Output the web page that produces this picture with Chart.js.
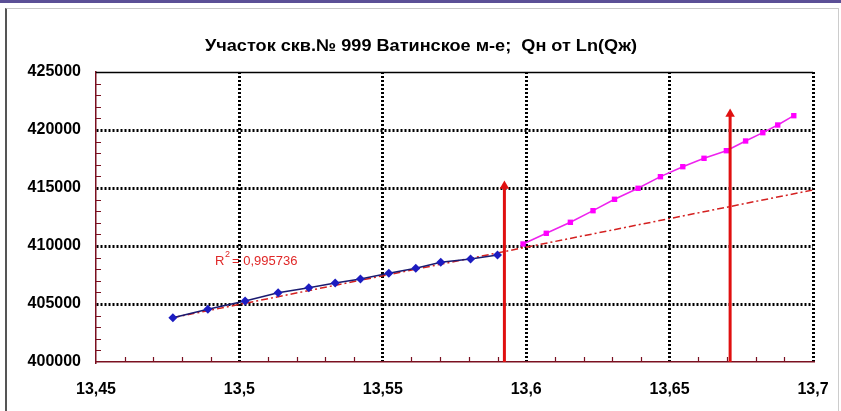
<!DOCTYPE html>
<html>
<head>
<meta charset="utf-8">
<script src="https://cdn.jsdelivr.net/npm/chart.js@4/dist/chart.umd.min.js"></script>
<style>
  html, body { margin: 0; padding: 0; background: #fff; }
  #wrap { position: relative; width: 841px; height: 411px; overflow: hidden; }
  #topbar { position: absolute; left: 0; top: 0; width: 841px; height: 3px; background: #5b4f96; }
  #frame { position: absolute; left: 5px; top: 8px; width: 831px; height: 420px;
           border-left: 2px solid #555; border-top: 1px solid #c8c8c8; border-right: 1px solid #ccc; }
  canvas { position: absolute; left: 0; top: 0; }
</style>
</head>
<body>
<div id="wrap">
  <div id="topbar"></div>
  <div id="frame"></div>
  <canvas id="c" width="841" height="411"></canvas>
</div>
<script>
/* ── data ── */
const TITLE = 'Участок скв.№ 999 Ватинское м-е;  Qн от Ln(Qж)';
const R2_TEXT = '= 0,995736';

const X_TICKS = [13.45, 13.5, 13.55, 13.6, 13.65, 13.7];
const Y_TICKS = [400000, 405000, 410000, 415000, 420000, 425000];

// history (blue diamonds)
const HIST_X = [13.4768, 13.4890, 13.5020, 13.5135, 13.5242, 13.5334, 13.5422, 13.5521, 13.5615, 13.5702, 13.5806, 13.5900];
const HIST_Y = [403820, 404545, 405250, 405975, 406406, 406812, 407157, 407648, 408079, 408596, 408881, 409225];

// forecast (magenta squares)
const FC_X = [13.5989, 13.6070, 13.6154, 13.6233, 13.6308, 13.6390, 13.6468, 13.6546, 13.6620, 13.6698, 13.6765, 13.6825, 13.6877, 13.6933];
const FC_Y = [410174, 411096, 412044, 413044, 414027, 414975, 415975, 416837, 417561, 418216, 419052, 419768, 420431, 421233];

// linear trend of the history, extended
const TREND_X = [13.4768, 13.7];
const TREND_Y = [403820, 414830];

// red arrows
const ARROW_X = [13.5924, 13.6711];
const ARROW_TOP = [415170, 421380];
const ARROW_BASE = 400000;

const pts = (xs, ys) => xs.map((x, i) => ({ x, y: ys[i] }));
const fmtX = v => String(Number(v.toFixed(2))).replace('.', ',');

const AXIS_RED = '#7a1020';
const FONT = '"Liberation Sans", Arial, sans-serif';

// draw text squeezed horizontally to a given width (the original uses a narrow bold face)
function narrowText(ctx, text, x, y, width) {
  const w = ctx.measureText(text).width;
  ctx.save();
  ctx.translate(x, y);
  ctx.scale(width / w, 1);
  ctx.fillText(text, 0, 0);
  ctx.restore();
}

/* ── extras: title, R², top border, minor ticks ── */
const extras = {
  id: 'extras',
  beforeDatasetsDraw(chart) {
    const { ctx, chartArea: a, scales: { x, y } } = chart;
    ctx.save();
    // top border
    ctx.strokeStyle = '#000';
    ctx.lineWidth = 1.5;
    ctx.beginPath();
    ctx.moveTo(a.left, a.top + 0.5);
    ctx.lineTo(a.right, a.top + 0.5);
    ctx.stroke();
    // minor ticks
    ctx.strokeStyle = AXIS_RED;
    ctx.lineWidth = 1.2;
    ctx.beginPath();
    for (let i = 1; i < 25; i++) {
      if (i % 5 === 0) continue;
      const px = Math.round(x.getPixelForValue(13.45 + i * 0.01)) + 0.5;
      ctx.moveTo(px, a.bottom);
      ctx.lineTo(px, a.bottom - 5);
      const py = Math.round(y.getPixelForValue(400000 + i * 1000)) + 0.5;
      ctx.moveTo(a.left, py);
      ctx.lineTo(a.left + 5, py);
    }
    ctx.stroke();
    ctx.restore();
  },
  afterDraw(chart) {
    const { ctx } = chart;
    ctx.save();
    ctx.textBaseline = 'middle';
    ctx.textAlign = 'left';
    // title
    ctx.font = 'bold 17px ' + FONT;
    ctx.fillStyle = '#000';
    narrowText(ctx, TITLE, 205, 46, 432);
    // R² label
    ctx.fillStyle = '#e02828';
    ctx.font = '13px ' + FONT;
    ctx.fillText('R', 215, 261);
    ctx.font = '9px ' + FONT;
    ctx.fillText('2', 225, 255);
    ctx.font = '13px ' + FONT;
    ctx.fillText(R2_TEXT, 232, 261);
    ctx.restore();
  }
};

const arrowSet = i => ({
  data: pts([ARROW_X[i], ARROW_X[i]], [ARROW_BASE, ARROW_TOP[i]]),
  showLine: true,
  borderColor: '#e01010',
  backgroundColor: '#e01010',
  borderWidth: 3,
  pointStyle: 'triangle',
  pointRadius: [0, 5.5],
  pointBorderWidth: 0
});

new Chart(document.getElementById('c').getContext('2d'), {
  type: 'scatter',
  data: {
    datasets: [
      arrowSet(0),
      arrowSet(1),
      {
        data: pts(HIST_X, HIST_Y),
        showLine: true,
        borderColor: '#1a1a70',
        borderWidth: 1.5,
        backgroundColor: '#1c1cc0',
        pointBorderColor: '#1c1cc0',
        pointStyle: 'rectRot',
        pointRadius: 4.5,
        pointBorderWidth: 0
      },
      {
        data: pts(FC_X, FC_Y),
        showLine: true,
        borderColor: '#ee22ee',
        borderWidth: 1.5,
        backgroundColor: '#ff00ff',
        pointStyle: 'rect',
        pointRadius: 3.8,
        pointBorderWidth: 0
      },
      {
        data: pts(TREND_X, TREND_Y),
        showLine: true,
        borderColor: '#d42020',
        borderWidth: 1.5,
        borderDash: [7, 3, 2, 3],
        pointRadius: 0
      }
    ]
  },
  options: {
    responsive: false,
    animation: false,
    layout: { padding: { left: 0, right: 28, top: 72, bottom: 0 } },
    plugins: {
      legend: { display: false },
      tooltip: { enabled: false },
      title: { display: false }
    },
    scales: {
      x: {
        type: 'linear',
        min: 13.45,
        max: 13.7,
        afterBuildTicks: s => { s.ticks = X_TICKS.map(v => ({ value: v })); },
        afterFit: s => { s.height = 49; s.paddingLeft = 0; s.paddingRight = 0; },
        ticks: {
          color: '#000',
          padding: 18,
          maxRotation: 0,
          font: { family: FONT, size: 16, weight: 'bold' },
          callback: v => fmtX(v)
        },
        grid: {
          drawTicks: false,
          lineWidth: 3,
          color: c => (c.tick && (c.tick.value === 13.45)) ? 'rgba(0,0,0,0)' : '#000'
        },
        border: { color: AXIS_RED, width: 1.5, dash: [2, 2] }
      },
      y: {
        min: 400000,
        max: 425000,
        afterBuildTicks: s => { s.ticks = Y_TICKS.map(v => ({ value: v })); },
        afterFit: s => { s.width = 96; s.paddingTop = 0; s.paddingBottom = 0; },
        ticks: {
          color: '#000',
          padding: 15,
          font: { family: FONT, size: 16, weight: 'bold' },
          callback: v => String(v)
        },
        grid: {
          drawTicks: false,
          lineWidth: 3,
          color: c => (c.tick && (c.tick.value === 400000 || c.tick.value === 425000)) ? 'rgba(0,0,0,0)' : '#000'
        },
        border: { color: AXIS_RED, width: 1.5, dash: [2, 2] }
      }
    }
  },
  plugins: [extras]
});
</script>
</body>
</html>
